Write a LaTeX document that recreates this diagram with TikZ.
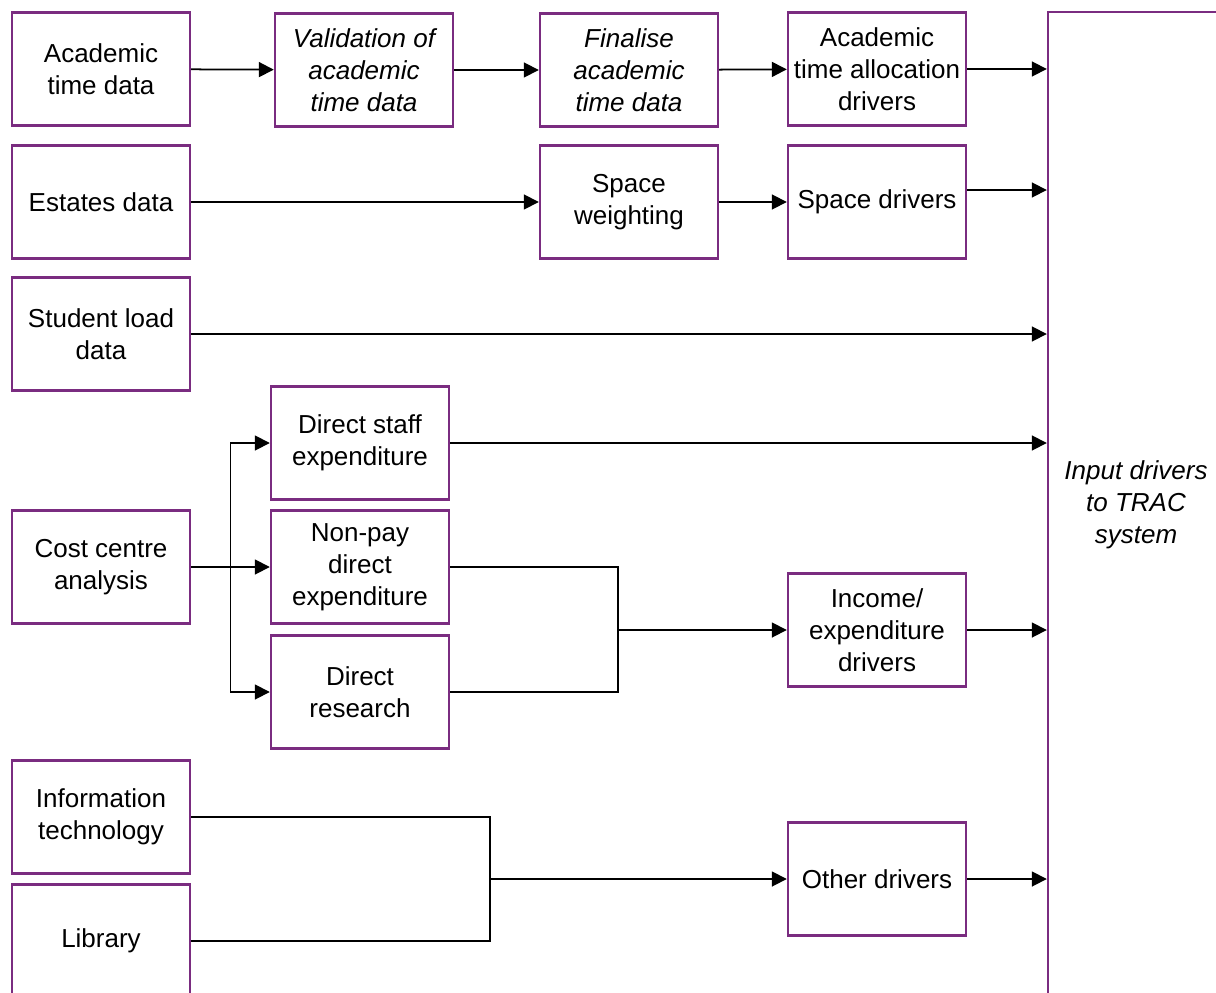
\documentclass[tikz,border=0pt]{standalone}
\usepackage{fontspec}
\setmainfont{Liberation Sans}
\usetikzlibrary{arrows.meta,calc}
\definecolor{boxpurple}{RGB}{122,44,128}

\begin{document}
\begin{tikzpicture}[x=0.02cm,y=-0.02cm,
  box/.style={draw=boxpurple,line width=1.4pt,minimum width=3.56cm,minimum height=2.26cm,
    inner sep=2pt,align=center,font=\fontsize{14.8}{18.2}\selectfont},
  ibox/.style={box,font=\fontsize{14.8}{18.2}\selectfont\itshape},
  arr/.style={line width=1pt,-{Triangle[length=0.3cm,width=0.3cm]}},
  lin/.style={line width=1pt}]
\clip (0,0) rectangle (1216,993);

\node[box] (atd) at (101,69) {Academic\\time data};
\node[ibox] (val) at (364,70) {Validation of\\academic\\time data};
\node[ibox] (fin) at (629,70) {Finalise\\academic\\time data};
\node[box] (atad) at (877,69) {Academic\\time allocation\\drivers};
\node[box] (est) at (101,202) {Estates data};
\node[box] (spw) at (629,202) {Space\\weighting};
\node[box] (spd) at (877,202) {Space drivers};
\node[box] (sld) at (101,334) {Student load\\data};
\node[box] (dse) at (360,443) {Direct staff\\expenditure};
\node[box] (cca) at (101,567) {Cost centre\\analysis};
\node[box] (npd) at (360,567) {Non-pay\\direct\\expenditure};
\node[box] (dre) at (360,692) {Direct\\research};
\node[box] (ied) at (877,630) {Income/\\expenditure\\drivers};
\node[box] (itc) at (101,817) {Information\\technology};
\node[box] (lib) at (101,941) {Library};
\node[box] (oth) at (877,879) {Other drivers};
\node[ibox,minimum width=3.52cm,minimum height=19.72cm] (trac) at (1136,505) {Input drivers\\to TRAC\\system};

\coordinate (sd) at ([yshift=0.24cm]spd.east);
\coordinate (br) at ($(cca.east)!0.5!(npd.west)$);
\coordinate (j1) at (618,630);
\coordinate (j2) at (490,879);

\draw[arr] (atd) -- (val);
\draw[arr] (val) -- (fin);
\draw[arr] (fin) -- (atad);
\draw[arr] (atad) -- (atad -| trac.west);
\draw[arr] (est) -- (spw);
\draw[arr] (spw) -- (spd);
\draw[arr] (sd) -- (sd -| trac.west);
\draw[arr] (sld) -- (sld -| trac.west);
\draw[arr] (dse) -- (dse -| trac.west);
\draw[arr] (cca) -- (npd);
\draw[arr] (br) |- (dse.west);
\draw[arr] (br) |- (dre.west);
\draw[lin] (npd.east) -| (j1) |- (dre.east);
\draw[arr] (j1) -- (ied);
\draw[arr] (ied) -- (ied -| trac.west);
\draw[lin] (itc.east) -| (j2) |- (lib.east);
\draw[arr] (j2) -- (oth);
\draw[arr] (oth) -- (oth -| trac.west);
\end{tikzpicture}
\end{document}
